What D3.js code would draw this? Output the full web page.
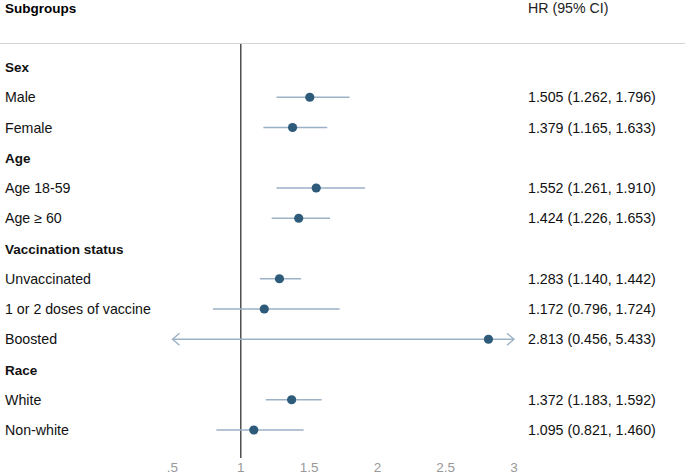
<!DOCTYPE html>
<html>
<head>
<meta charset="utf-8">
<script src="https://cdn.jsdelivr.net/npm/d3@7.9.0/dist/d3.min.js"></script>
<style>
  body { margin: 0; background: #fff; }
  text { font-family: "Liberation Sans", Arial, sans-serif; }
</style>
</head>
<body>
<svg id="chart" width="685" height="476"></svg>
<script>
// rows top to bottom; headers have no estimate
const labels = ['Sex', 'Male', 'Female', 'Age', 'Age 18-59', 'Age \u2265 60',
  'Vaccination status', 'Unvaccinated', '1 or 2 doses of vaccine', 'Boosted',
  'Race', 'White', 'Non-white'];
const isHeader = [true, false, false, true, false, false, true, false, false, false, true, false, false];
const hr    = [null, 1.505, 1.379, null, 1.552, 1.424, null, 1.283, 1.172, 2.813, null, 1.372, 1.095];
const lower = [null, 1.262, 1.165, null, 1.261, 1.226, null, 1.140, 0.796, 0.456, null, 1.183, 0.821];
const upper = [null, 1.796, 1.633, null, 1.910, 1.653, null, 1.442, 1.724, 5.433, null, 1.592, 1.460];
const ticks = [0.5, 1, 1.5, 2, 2.5, 3];
const tickLabels = ['.5', '1', '1.5', '2', '2.5', '3'];

const svg = d3.select('#chart');
const x = d3.scaleLinear().domain([0.5, 3]).range([172.5, 514]);
const y = d3.scaleLinear().domain([0, 12]).range([67, 430]);
const fmt = d3.format('.3f');

// header
svg.append('text').attr('x', 5).attr('y', 13).attr('font-size', 13.5)
  .attr('font-weight', 'bold').text('Subgroups');
svg.append('text').attr('x', 528).attr('y', 13).attr('font-size', 14.2)
  .attr('fill', '#222').text('HR (95% CI)');
svg.append('line').attr('x1', 0).attr('x2', 685).attr('y1', 43.5).attr('y2', 43.5)
  .attr('stroke', '#d4d4d4').attr('stroke-width', 1.2);

// reference line at 1
svg.append('line').attr('x1', x(1)).attr('x2', x(1)).attr('y1', 44).attr('y2', 458)
  .attr('stroke', '#333').attr('stroke-width', 1.3);

// axis labels
svg.selectAll('.tick').data(ticks).join('text')
  .attr('x', d => x(d)).attr('y', 472).attr('text-anchor', 'middle')
  .attr('font-size', 13.5).attr('fill', '#999')
  .text((d, i) => tickLabels[i]);

// row labels
svg.selectAll('.lab').data(labels).join('text')
  .attr('x', 5).attr('y', (d, i) => y(i) + 5)
  .attr('font-size', (d, i) => isHeader[i] ? 13.5 : 14.2)
  .attr('font-weight', (d, i) => isHeader[i] ? 'bold' : 'normal')
  .attr('fill', '#111')
  .text(d => d);

const rows = d3.range(labels.length).filter(i => !isHeader[i]);
const [xmin, xmax] = x.domain();
const ciColor = '#9db1c6';

// CI lines (clipped to axis range, with arrows where clipped)
rows.forEach(i => {
  const lo = Math.max(lower[i], xmin), hi = Math.min(upper[i], xmax);
  const yy = y(i);
  svg.append('line').attr('x1', x(lo)).attr('x2', x(hi)).attr('y1', yy).attr('y2', yy)
    .attr('stroke', ciColor).attr('stroke-width', 1.6);
  if (lower[i] < xmin) {
    svg.append('path')
      .attr('d', `M${x(lo) + 7},${yy - 6} L${x(lo)},${yy} L${x(lo) + 7},${yy + 6}`)
      .attr('fill', 'none').attr('stroke', ciColor).attr('stroke-width', 1.4);
  }
  if (upper[i] > xmax) {
    svg.append('path')
      .attr('d', `M${x(hi) - 7},${yy - 6} L${x(hi)},${yy} L${x(hi) - 7},${yy + 6}`)
      .attr('fill', 'none').attr('stroke', ciColor).attr('stroke-width', 1.4);
  }
});

// points
svg.selectAll('.pt').data(rows).join('circle')
  .attr('cx', i => x(hr[i])).attr('cy', i => y(i)).attr('r', 4.6)
  .attr('fill', '#2e5b7a');

// HR text
svg.selectAll('.hr').data(rows).join('text')
  .attr('x', 528).attr('y', i => y(i) + 5).attr('font-size', 14.2).attr('fill', '#111')
  .text(i => `${fmt(hr[i])} (${fmt(lower[i])}, ${fmt(upper[i])})`);
</script>
</body>
</html>
